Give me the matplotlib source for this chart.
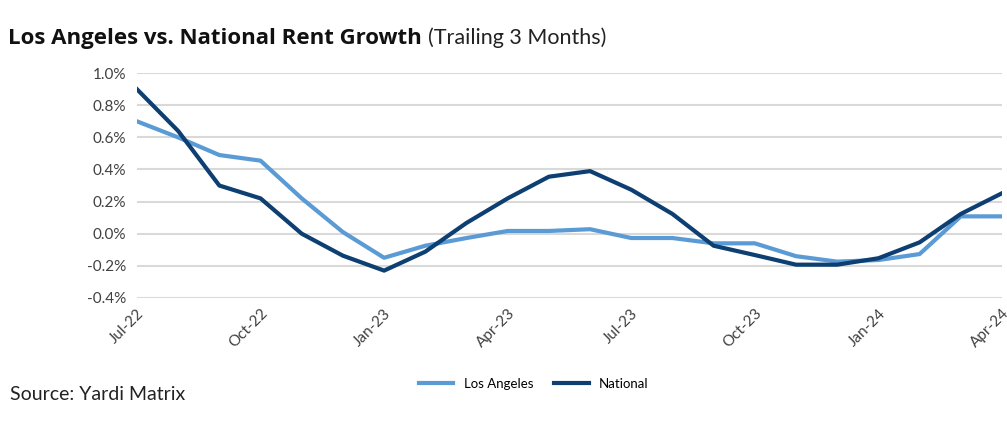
import numpy as np
import matplotlib.pyplot as plt
from matplotlib.ticker import FuncFormatter

plt.rcParams['font.family'] = ['Lato', 'DejaVu Sans']

months = ['Jul-22', 'Aug-22', 'Sep-22', 'Oct-22', 'Nov-22', 'Dec-22',
          'Jan-23', 'Feb-23', 'Mar-23', 'Apr-23', 'May-23', 'Jun-23',
          'Jul-23', 'Aug-23', 'Sep-23', 'Oct-23', 'Nov-23', 'Dec-23',
          'Jan-24', 'Feb-24', 'Mar-24', 'Apr-24']
los_angeles = [0.70, 0.60, 0.49, 0.455, 0.22, 0.01, -0.15, -0.075, -0.027, 0.017,
               0.017, 0.028, -0.027, -0.027, -0.06, -0.06, -0.14, -0.174, -0.164,
               -0.127, 0.108, 0.108]
national = [0.90, 0.64, 0.30, 0.22, 0.0, -0.137, -0.23, -0.112, 0.067, 0.22,
            0.355, 0.39, 0.274, 0.123, -0.075, -0.133, -0.193, -0.193, -0.153,
            -0.054, 0.123, 0.252]

x = np.arange(len(months))

fig = plt.figure(figsize=(10.07, 4.33), dpi=100)
ax = fig.add_axes([0.136, 0.312, 0.859, 0.519])

ax.plot(x, los_angeles, color='#5b9bd5', lw=3, label='Los Angeles')
ax.plot(x, national, color='#0d3f73', lw=3, label='National')

ax.set_xlim(0, len(months) - 1)
ax.set_ylim(-0.4, 1.0)
ax.set_yticks(np.arange(-0.4, 1.01, 0.2))
ax.yaxis.set_major_formatter(FuncFormatter(lambda v, p: f'{v:.1f}%'))
ax.set_xticks(x[::3])
ax.set_xticklabels(months[::3], rotation=45, ha='right', rotation_mode='anchor')
ax.tick_params(length=0, labelsize=11, colors='#404040')
ax.tick_params(axis='y', pad=8)
ax.tick_params(axis='x', pad=6)
ax.grid(axis='y', color='#d9d9d9', lw=1.5)
ax.set_axisbelow(True)
for s in ax.spines.values():
    s.set_visible(False)

title = fig.text(0.008, 0.912, 'Los Angeles vs. National Rent Growth', fontsize=16,
                 fontweight='bold', color='#111111', va='center',
                 family=['Open Sans', 'DejaVu Sans'])
fig.canvas.draw()
bb = title.get_window_extent()
fig.text(bb.x1 / fig.bbox.width + 0.006, 0.912, '(Trailing 3 Months)', fontsize=15.5,
         color='#222222', va='center')
fig.text(0.01, 0.088, 'Source: Yardi Matrix', fontsize=14, color='#222222', va='center')

fig.legend(loc='center', bbox_to_anchor=(0.53, 0.113), ncol=2, frameon=False,
           fontsize=9.5, handlelength=2.6, columnspacing=1.6)

fig.savefig('out.png')
